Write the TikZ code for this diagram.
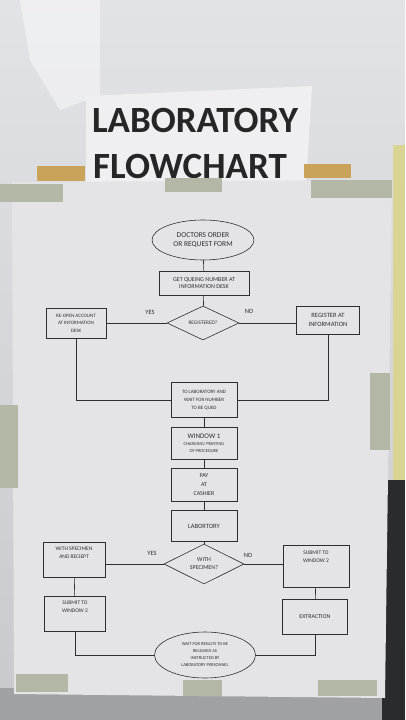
\documentclass[tikz,border=0pt]{standalone}
\usepackage{fontspec}
\setmainfont{Carlito}
\usetikzlibrary{shapes.geometric}
\definecolor{wall}{HTML}{C8C9CC}
\definecolor{wallhi}{HTML}{E2E3E6}
\definecolor{paper}{HTML}{E4E4E7}
\definecolor{ink}{HTML}{2E2E30}
\definecolor{tape}{HTML}{B3B7A6}
\definecolor{otape}{HTML}{C9A35A}
\definecolor{ystrip}{HTML}{D9D394}
\definecolor{dark}{HTML}{2A2B2D}
\tikzset{
  box/.style={draw=ink, line width=0.6pt, fill=paper, text=ink, align=center, inner sep=1pt, font=\fontsize{6}{7.5}\selectfont},
  oval/.style={ellipse, draw=ink, line width=0.6pt, fill=paper, text=ink, align=center, inner sep=0pt},
  dia/.style={diamond, draw=ink, line width=0.6pt, fill=paper, text=ink, align=center, inner sep=0pt},
  lbl/.style={text=ink, font=\fontsize{6.5}{7}\selectfont},
  link/.style={draw=ink, line width=0.6pt},
  tapestyle/.style={fill=tape, draw=none},
}
\begin{document}
\begin{tikzpicture}[x=1pt,y=-1pt]
\useasboundingbox (0,0) rectangle (405,720);
% background
\shade[top color=wallhi, bottom color=wall] (0,0) rectangle (405,720);
\fill[white, opacity=0.45] (20,0) -- (100,0) -- (100,95) -- (60,110) -- (30,60) -- cycle;
\fill[ystrip] (393,145) rectangle (405,500);
\fill[dark] (382,480) rectangle (405,720);
\fill[wall!80!black] (0,688) rectangle (382,720);
% title sheet
\fill[paper!60!white] (86,96) -- (312,86) -- (306,186) -- (86,186) -- cycle;
\fill[otape] (37,166) rectangle (85,181);
\fill[otape] (304,164) rectangle (351,178);
\node[text=black!85, font=\fontsize{37}{40}\selectfont\bfseries] (t1) at (195,120) {LABORATORY};
\node[text=black!85, font=\fontsize{37}{40}\selectfont\bfseries] (t2) at (190,166) {FLOWCHART};
% main sheet
\fill[paper] (12,182) -- (392,180) -- (385,698) -- (14,694) -- cycle;
% tapes
\fill[tapestyle] (0,184) rectangle (63,202);
\fill[tapestyle] (165,178) rectangle (222,192);
\fill[tapestyle] (311,180) rectangle (392,198);
\fill[tapestyle] (0,405) rectangle (18,488);
\fill[tapestyle] (370,373) rectangle (390,450);
\fill[tapestyle] (16,674) rectangle (68,692);
\fill[tapestyle] (183,680) rectangle (222,696);
\fill[tapestyle] (318,680) rectangle (377,696);
% flowchart nodes
\node[oval, minimum width=102pt, minimum height=40pt, font=\fontsize{7.5}{9.5}\selectfont] (order) at (203,240) {DOCTORS ORDER\\OR REQUEST FORM};
\node[box, minimum width=90pt, minimum height=24pt] (queue) at (204,283) {GET QUEING NUMBER AT\\INFORMATION DESK};
\node[dia, minimum width=72pt, minimum height=34pt, font=\fontsize{5.3}{6}\selectfont] (reg) at (203,323) {REGISTERED?};
\node[box, minimum width=60pt, minimum height=30pt, font=\fontsize{5}{7.5}\selectfont] (reopen) at (76,323) {RE-OPEN ACCOUNT\\AT INFORMATION\\DESK};
\node[box, minimum width=63pt, minimum height=28pt, font=\fontsize{6.5}{9}\selectfont] (register) at (328,320) {REGISTER AT\\INFORMATION};
\node[box, minimum width=66pt, minimum height=35pt, font=\fontsize{5}{8}\selectfont] (tolab) at (204,400) {TO LABORATORY AND\\WAIT FOR NUMBER\\TO BE QUED};
\node[box, minimum width=66pt, minimum height=32pt, font=\fontsize{4.5}{7}\selectfont] (win1) at (204,443) {{\fontsize{7}{9}\selectfont WINDOW 1}\\CHARGING/ PRINTING\\OF PROCEDURE};
\node[box, minimum width=66pt, minimum height=33pt, font=\fontsize{6}{9}\selectfont] (pay) at (204,485) {PAY\\AT\\CASHIER};
\node[box, minimum width=66pt, minimum height=31pt, font=\fontsize{6.5}{8}\selectfont] (labtory) at (204,526) {LABORTORY};
\node[dia, minimum width=80pt, minimum height=39pt, font=\fontsize{6}{8}\selectfont] (spec) at (204,564) {WITH\\SPECIMEN?};
\node[box, minimum width=62pt, minimum height=35pt, font=\fontsize{5.5}{8}\selectfont] (withspec) at (74,560) {WITH SPECIMEN\\AND RECIEPT\\[6pt]};
\node[box, minimum width=66pt, minimum height=42pt, font=\fontsize{5.5}{8}\selectfont] (submitR) at (316,566) {SUBMIT TO\\WINDOW 2\\[10pt]};
\node[box, minimum width=61pt, minimum height=35pt, font=\fontsize{5.5}{8}\selectfont] (submitL) at (75,614) {SUBMIT TO\\WINDOW 2\\[6pt]};
\node[box, minimum width=65pt, minimum height=35pt, font=\fontsize{6}{8}\selectfont] (extract) at (315,617) {EXTRACTION};
\node[oval, minimum width=101pt, minimum height=46pt, font=\fontsize{4.5}{7}\selectfont] (wait) at (205,655) {WAIT FOR RESULTS TO BE\\RELEASED AS\\INSTRUCTED BY\\LABORATORY PERSONNEL};
% labels
\node[lbl] (yes1) at (150,312) {YES};
\node[lbl] (no1) at (249,311) {NO};
\node[lbl] (yes2) at (152,553) {YES};
\node[lbl] (no2) at (248,555) {NO};
% connectors
\draw[link] (order) -- (queue);
\draw[link] (queue) -- (reg);
\draw[link] (reg.west) -- (reg.west -| reopen.east);
\draw[link] (reg.east) -- (reg.east -| register.west);
\draw[link] (reopen.south) |- (tolab.west);
\draw[link] (register.south) |- (tolab.east);
\draw[link] (tolab) -- (win1);
\draw[link] (win1) -- (pay);
\draw[link] (pay) -- (labtory);
\draw[link] (labtory) -- (spec);
\draw[link] (spec.west) -- (spec.west -| withspec.east);
\draw[link] (spec.east) -- (spec.east -| submitR.west);
\draw[link] (withspec) -- (submitL);
\draw[link] (submitR) -- (extract);
\draw[link] (submitL.south) |- (wait.west);
\draw[link] (extract.south) |- (wait.east);
\end{tikzpicture}
\end{document}
